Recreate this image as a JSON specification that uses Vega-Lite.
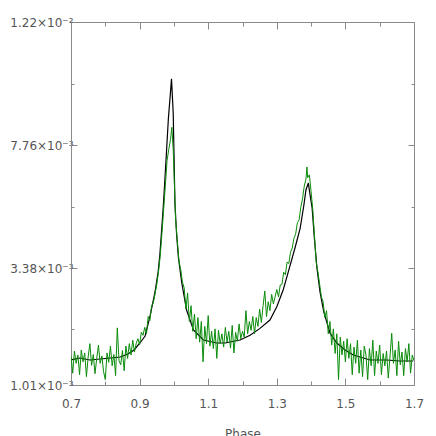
{
  "$schema": "https://vega.github.io/schema/vega-lite/v6.json",
  "width": 343,
  "height": 363,
  "autosize": "none",
  "padding": {"left": 71, "top": 22, "right": 22, "bottom": 51},
  "background": "white",
  "config": {
    "view": {"stroke": null},
    "axis": {
      "domainColor": "#8a8a8a",
      "domainWidth": 1,
      "tickColor": "#8a8a8a",
      "tickWidth": 1,
      "labelColor": "#555555",
      "labelFont": "DejaVu Sans",
      "labelFontSize": 12,
      "titleColor": "#555555",
      "titleFont": "DejaVu Sans",
      "titleFontSize": 12,
      "titleFontWeight": "normal",
      "grid": false,
      "labelOverlap": false,
      "labelFlush": false
    }
  },
  "datasets": {
    "model": [
      {"phase": 0.700, "flux": 0.001518}, {"phase": 0.726, "flux": 0.001558}, {"phase": 0.755, "flux": 0.001518},
      {"phase": 0.785, "flux": 0.001538}, {"phase": 0.814, "flux": 0.001558}, {"phase": 0.843, "flux": 0.001579},
      {"phase": 0.866, "flux": 0.001640}, {"phase": 0.884, "flux": 0.001721}, {"phase": 0.901, "flux": 0.001863},
      {"phase": 0.916, "flux": 0.002005}, {"phase": 0.930, "flux": 0.002394}, {"phase": 0.945, "flux": 0.002899},
      {"phase": 0.954, "flux": 0.003305}, {"phase": 0.959, "flux": 0.003852}, {"phase": 0.969, "flux": 0.005558},
      {"phase": 0.977, "flux": 0.007227}, {"phase": 0.984, "flux": 0.008737}, {"phase": 0.989, "flux": 0.009497},
      {"phase": 0.993, "flux": 0.010148}, {"phase": 0.998, "flux": 0.008918}, {"phase": 1.003, "flux": 0.005700},
      {"phase": 1.008, "flux": 0.004563}, {"phase": 1.013, "flux": 0.003781}, {"phase": 1.023, "flux": 0.003081},
      {"phase": 1.037, "flux": 0.002533}, {"phase": 1.057, "flux": 0.002127}, {"phase": 1.086, "flux": 0.001924},
      {"phase": 1.125, "flux": 0.001863}, {"phase": 1.149, "flux": 0.001863}, {"phase": 1.193, "flux": 0.001924},
      {"phase": 1.222, "flux": 0.002020}, {"phase": 1.251, "flux": 0.002160}, {"phase": 1.280, "flux": 0.002330},
      {"phase": 1.300, "flux": 0.002600}, {"phase": 1.319, "flux": 0.002950}, {"phase": 1.338, "flux": 0.003450},
      {"phase": 1.353, "flux": 0.004100}, {"phase": 1.368, "flux": 0.004800}, {"phase": 1.379, "flux": 0.005629},
      {"phase": 1.385, "flux": 0.006161}, {"phase": 1.392, "flux": 0.006410}, {"phase": 1.397, "flux": 0.005984},
      {"phase": 1.403, "flux": 0.005522}, {"phase": 1.410, "flux": 0.004385}, {"phase": 1.417, "flux": 0.003390},
      {"phase": 1.426, "flux": 0.002899}, {"phase": 1.437, "flux": 0.002493}, {"phase": 1.455, "flux": 0.002066},
      {"phase": 1.475, "flux": 0.001863}, {"phase": 1.499, "flux": 0.001721}, {"phase": 1.523, "flux": 0.001619},
      {"phase": 1.572, "flux": 0.001518}, {"phase": 1.620, "flux": 0.001518}, {"phase": 1.659, "flux": 0.001497},
      {"phase": 1.697, "flux": 0.001497}
    ],
    "obs": [
      {"phase": 0.700, "flux": 0.00160}, {"phase": 0.705, "flux": 0.00125}, {"phase": 0.710, "flux": 0.00170},
      {"phase": 0.715, "flux": 0.00145}, {"phase": 0.720, "flux": 0.00162}, {"phase": 0.725, "flux": 0.00122},
      {"phase": 0.730, "flux": 0.00172}, {"phase": 0.735, "flux": 0.00148}, {"phase": 0.740, "flux": 0.00166},
      {"phase": 0.745, "flux": 0.00118}, {"phase": 0.750, "flux": 0.00158}, {"phase": 0.755, "flux": 0.00185},
      {"phase": 0.760, "flux": 0.00141}, {"phase": 0.765, "flux": 0.00163}, {"phase": 0.770, "flux": 0.00124},
      {"phase": 0.775, "flux": 0.00155}, {"phase": 0.780, "flux": 0.00182}, {"phase": 0.785, "flux": 0.00145},
      {"phase": 0.790, "flux": 0.00160}, {"phase": 0.795, "flux": 0.00128}, {"phase": 0.800, "flux": 0.00112},
      {"phase": 0.805, "flux": 0.00166}, {"phase": 0.810, "flux": 0.00147}, {"phase": 0.815, "flux": 0.00180},
      {"phase": 0.820, "flux": 0.00140}, {"phase": 0.825, "flux": 0.00163}, {"phase": 0.830, "flux": 0.00120},
      {"phase": 0.835, "flux": 0.00217}, {"phase": 0.840, "flux": 0.00150}, {"phase": 0.845, "flux": 0.00142},
      {"phase": 0.850, "flux": 0.00171}, {"phase": 0.855, "flux": 0.00130}, {"phase": 0.860, "flux": 0.00180},
      {"phase": 0.865, "flux": 0.00155}, {"phase": 0.870, "flux": 0.00185}, {"phase": 0.875, "flux": 0.00162},
      {"phase": 0.880, "flux": 0.00192}, {"phase": 0.885, "flux": 0.00168}, {"phase": 0.890, "flux": 0.00185},
      {"phase": 0.895, "flux": 0.00195}, {"phase": 0.900, "flux": 0.00183}, {"phase": 0.905, "flux": 0.00208},
      {"phase": 0.910, "flux": 0.00202}, {"phase": 0.915, "flux": 0.00218}, {"phase": 0.920, "flux": 0.00205},
      {"phase": 0.925, "flux": 0.00240}, {"phase": 0.930, "flux": 0.00232}, {"phase": 0.935, "flux": 0.00262},
      {"phase": 0.940, "flux": 0.00268}, {"phase": 0.945, "flux": 0.00286}, {"phase": 0.950, "flux": 0.00305},
      {"phase": 0.955, "flux": 0.00330}, {"phase": 0.960, "flux": 0.00380}, {"phase": 0.965, "flux": 0.00460},
      {"phase": 0.970, "flux": 0.00545}, {"phase": 0.975, "flux": 0.00630}, {"phase": 0.980, "flux": 0.00720},
      {"phase": 0.985, "flux": 0.00760}, {"phase": 0.990, "flux": 0.00795}, {"phase": 0.994, "flux": 0.00840},
      {"phase": 0.998, "flux": 0.00760}, {"phase": 1.000, "flux": 0.00690}, {"phase": 1.005, "flux": 0.00510},
      {"phase": 1.010, "flux": 0.00435}, {"phase": 1.015, "flux": 0.00362}, {"phase": 1.020, "flux": 0.00335},
      {"phase": 1.025, "flux": 0.00310}, {"phase": 1.030, "flux": 0.00298}, {"phase": 1.035, "flux": 0.00255},
      {"phase": 1.040, "flux": 0.00288}, {"phase": 1.045, "flux": 0.00230}, {"phase": 1.050, "flux": 0.00262},
      {"phase": 1.055, "flux": 0.00210}, {"phase": 1.060, "flux": 0.00245}, {"phase": 1.065, "flux": 0.00195},
      {"phase": 1.070, "flux": 0.00238}, {"phase": 1.075, "flux": 0.00188}, {"phase": 1.080, "flux": 0.00230},
      {"phase": 1.085, "flux": 0.00148}, {"phase": 1.090, "flux": 0.00220}, {"phase": 1.095, "flux": 0.00185},
      {"phase": 1.100, "flux": 0.00242}, {"phase": 1.105, "flux": 0.00180}, {"phase": 1.110, "flux": 0.00210},
      {"phase": 1.115, "flux": 0.00175}, {"phase": 1.120, "flux": 0.00215}, {"phase": 1.125, "flux": 0.00155},
      {"phase": 1.130, "flux": 0.00212}, {"phase": 1.135, "flux": 0.00185}, {"phase": 1.140, "flux": 0.00205},
      {"phase": 1.145, "flux": 0.00178}, {"phase": 1.150, "flux": 0.00218}, {"phase": 1.155, "flux": 0.00188},
      {"phase": 1.160, "flux": 0.00210}, {"phase": 1.165, "flux": 0.00176}, {"phase": 1.170, "flux": 0.00222},
      {"phase": 1.175, "flux": 0.00166}, {"phase": 1.180, "flux": 0.00208}, {"phase": 1.185, "flux": 0.00190},
      {"phase": 1.190, "flux": 0.00225}, {"phase": 1.195, "flux": 0.00195}, {"phase": 1.200, "flux": 0.00210},
      {"phase": 1.205, "flux": 0.00198}, {"phase": 1.210, "flux": 0.00252}, {"phase": 1.215, "flux": 0.00205},
      {"phase": 1.220, "flux": 0.00230}, {"phase": 1.225, "flux": 0.00212}, {"phase": 1.230, "flux": 0.00240},
      {"phase": 1.235, "flux": 0.00205}, {"phase": 1.240, "flux": 0.00238}, {"phase": 1.245, "flux": 0.00220},
      {"phase": 1.250, "flux": 0.00255}, {"phase": 1.255, "flux": 0.00228}, {"phase": 1.260, "flux": 0.00262},
      {"phase": 1.265, "flux": 0.00292}, {"phase": 1.270, "flux": 0.00240}, {"phase": 1.275, "flux": 0.00270},
      {"phase": 1.280, "flux": 0.00252}, {"phase": 1.285, "flux": 0.00285}, {"phase": 1.290, "flux": 0.00266},
      {"phase": 1.295, "flux": 0.00280}, {"phase": 1.300, "flux": 0.00295}, {"phase": 1.305, "flux": 0.00280},
      {"phase": 1.310, "flux": 0.00304}, {"phase": 1.315, "flux": 0.00305}, {"phase": 1.320, "flux": 0.00330},
      {"phase": 1.325, "flux": 0.00325}, {"phase": 1.330, "flux": 0.00360}, {"phase": 1.335, "flux": 0.00355},
      {"phase": 1.340, "flux": 0.00395}, {"phase": 1.345, "flux": 0.00410}, {"phase": 1.350, "flux": 0.00445},
      {"phase": 1.355, "flux": 0.00460}, {"phase": 1.360, "flux": 0.00500}, {"phase": 1.365, "flux": 0.00510},
      {"phase": 1.370, "flux": 0.00555}, {"phase": 1.375, "flux": 0.00585}, {"phase": 1.380, "flux": 0.00630},
      {"phase": 1.385, "flux": 0.00655}, {"phase": 1.388, "flux": 0.00698}, {"phase": 1.390, "flux": 0.00660},
      {"phase": 1.395, "flux": 0.00670}, {"phase": 1.400, "flux": 0.00610}, {"phase": 1.405, "flux": 0.00545},
      {"phase": 1.410, "flux": 0.00450}, {"phase": 1.415, "flux": 0.00360}, {"phase": 1.420, "flux": 0.00330},
      {"phase": 1.425, "flux": 0.00305}, {"phase": 1.430, "flux": 0.00280}, {"phase": 1.435, "flux": 0.00270},
      {"phase": 1.440, "flux": 0.00238}, {"phase": 1.445, "flux": 0.00252}, {"phase": 1.450, "flux": 0.00205},
      {"phase": 1.455, "flux": 0.00230}, {"phase": 1.460, "flux": 0.00182}, {"phase": 1.465, "flux": 0.00215},
      {"phase": 1.470, "flux": 0.00165}, {"phase": 1.475, "flux": 0.00205}, {"phase": 1.480, "flux": 0.00112},
      {"phase": 1.485, "flux": 0.00198}, {"phase": 1.490, "flux": 0.00162}, {"phase": 1.495, "flux": 0.00190},
      {"phase": 1.500, "flux": 0.00148}, {"phase": 1.505, "flux": 0.00195}, {"phase": 1.510, "flux": 0.00155},
      {"phase": 1.515, "flux": 0.00185}, {"phase": 1.520, "flux": 0.00122}, {"phase": 1.525, "flux": 0.00178},
      {"phase": 1.530, "flux": 0.00145}, {"phase": 1.535, "flux": 0.00192}, {"phase": 1.540, "flux": 0.00125},
      {"phase": 1.545, "flux": 0.00172}, {"phase": 1.550, "flux": 0.00118}, {"phase": 1.555, "flux": 0.00180},
      {"phase": 1.560, "flux": 0.00162}, {"phase": 1.565, "flux": 0.00112}, {"phase": 1.570, "flux": 0.00175},
      {"phase": 1.575, "flux": 0.00140}, {"phase": 1.580, "flux": 0.00192}, {"phase": 1.585, "flux": 0.00120},
      {"phase": 1.590, "flux": 0.00170}, {"phase": 1.595, "flux": 0.00145}, {"phase": 1.600, "flux": 0.00182},
      {"phase": 1.605, "flux": 0.00122}, {"phase": 1.610, "flux": 0.00165}, {"phase": 1.615, "flux": 0.00140},
      {"phase": 1.620, "flux": 0.00170}, {"phase": 1.625, "flux": 0.00115}, {"phase": 1.630, "flux": 0.00158},
      {"phase": 1.635, "flux": 0.00206}, {"phase": 1.640, "flux": 0.00145}, {"phase": 1.645, "flux": 0.00172},
      {"phase": 1.650, "flux": 0.00120}, {"phase": 1.655, "flux": 0.00190}, {"phase": 1.660, "flux": 0.00142},
      {"phase": 1.665, "flux": 0.00168}, {"phase": 1.670, "flux": 0.00120}, {"phase": 1.675, "flux": 0.00175},
      {"phase": 1.680, "flux": 0.00148}, {"phase": 1.685, "flux": 0.00185}, {"phase": 1.690, "flux": 0.00125},
      {"phase": 1.695, "flux": 0.00162}, {"phase": 1.700, "flux": 0.00150}
    ]
  },
  "layer": [
    {
      "data": {"name": "model"},
      "mark": {"type": "line", "color": "#000000", "strokeWidth": 1.2, "clip": true},
      "encoding": {
        "x": {
          "field": "phase", "type": "quantitative",
          "scale": {"domain": [0.7, 1.7], "nice": false, "zero": false},
          "axis": {
            "orient": "bottom",
            "title": "Phase",
            "titlePadding": 16,
            "values": [0.7, 0.8, 0.9, 1.0, 1.1, 1.2, 1.3, 1.4, 1.5, 1.6, 1.7],
            "labelExpr": "round(datum.value*10)%2==1 ? format(datum.value, '.1f') : ''",
            "tickSize": {"condition": {"test": "round(datum.value*10)%2==1", "value": -7}, "value": -4},
            "labelPadding": 20
          }
        },
        "y": {
          "field": "flux", "type": "quantitative",
          "scale": {"domain": [0.00101, 0.00338, 0.00776, 0.0122], "range": [363, 246.3, 123, 0], "nice": false, "zero": false},
          "axis": {
            "orient": "left",
            "title": null,
            "values": [0.00101, 0.002141, 0.00338, 0.00557, 0.00776, 0.00998, 0.0122],
            "labelExpr": "abs(datum.value-0.00101)<1e-7 ? '1.01×10⁻³' : abs(datum.value-0.00338)<1e-7 ? '3.38×10⁻³' : abs(datum.value-0.00776)<1e-7 ? '7.76×10⁻³' : abs(datum.value-0.0122)<1e-7 ? '1.22×10⁻²' : ''",
            "tickSize": {"condition": {"test": "abs(datum.value-0.002141)<1e-7 || abs(datum.value-0.00557)<1e-7 || abs(datum.value-0.00998)<1e-7", "value": -3}, "value": -6},
            "labelPadding": 4
          }
        }
      }
    },
    {
      "data": {"name": "obs"},
      "mark": {"type": "line", "color": "#0a8c0a", "strokeWidth": 1, "clip": true},
      "encoding": {
        "x": {"field": "phase", "type": "quantitative", "scale": {"domain": [0.7, 1.7], "nice": false, "zero": false}, "axis": null},
        "y": {"field": "flux", "type": "quantitative", "scale": {"domain": [0.00101, 0.00338, 0.00776, 0.0122], "range": [363, 246.3, 123, 0], "nice": false, "zero": false}, "axis": null}
      }
    },
    {
      "data": {"name": "obs"},
      "mark": {"type": "line", "strokeOpacity": 0},
      "encoding": {
        "x": {
          "field": "phase", "type": "quantitative",
          "scale": {"domain": [0.7, 1.7], "nice": false, "zero": false},
          "axis": {
            "orient": "top", "title": null, "labels": false,
            "values": [0.7, 0.8, 0.9, 1.0, 1.1, 1.2, 1.3, 1.4, 1.5, 1.6, 1.7],
            "tickSize": {"condition": {"test": "round(datum.value*10)%2==1", "value": -7}, "value": -4}
          }
        },
        "y": {
          "field": "flux", "type": "quantitative",
          "scale": {"domain": [0.00101, 0.00338, 0.00776, 0.0122], "range": [363, 246.3, 123, 0], "nice": false, "zero": false},
          "axis": {
            "orient": "right", "title": null, "labels": false,
            "values": [0.00101, 0.002141, 0.00338, 0.00557, 0.00776, 0.00998, 0.0122],
            "tickSize": {"condition": {"test": "abs(datum.value-0.002141)<1e-7 || abs(datum.value-0.00557)<1e-7 || abs(datum.value-0.00998)<1e-7", "value": -3}, "value": -6}
          }
        }
      }
    }
  ],
  "resolve": {"axis": {"x": "independent", "y": "independent"}}
}
